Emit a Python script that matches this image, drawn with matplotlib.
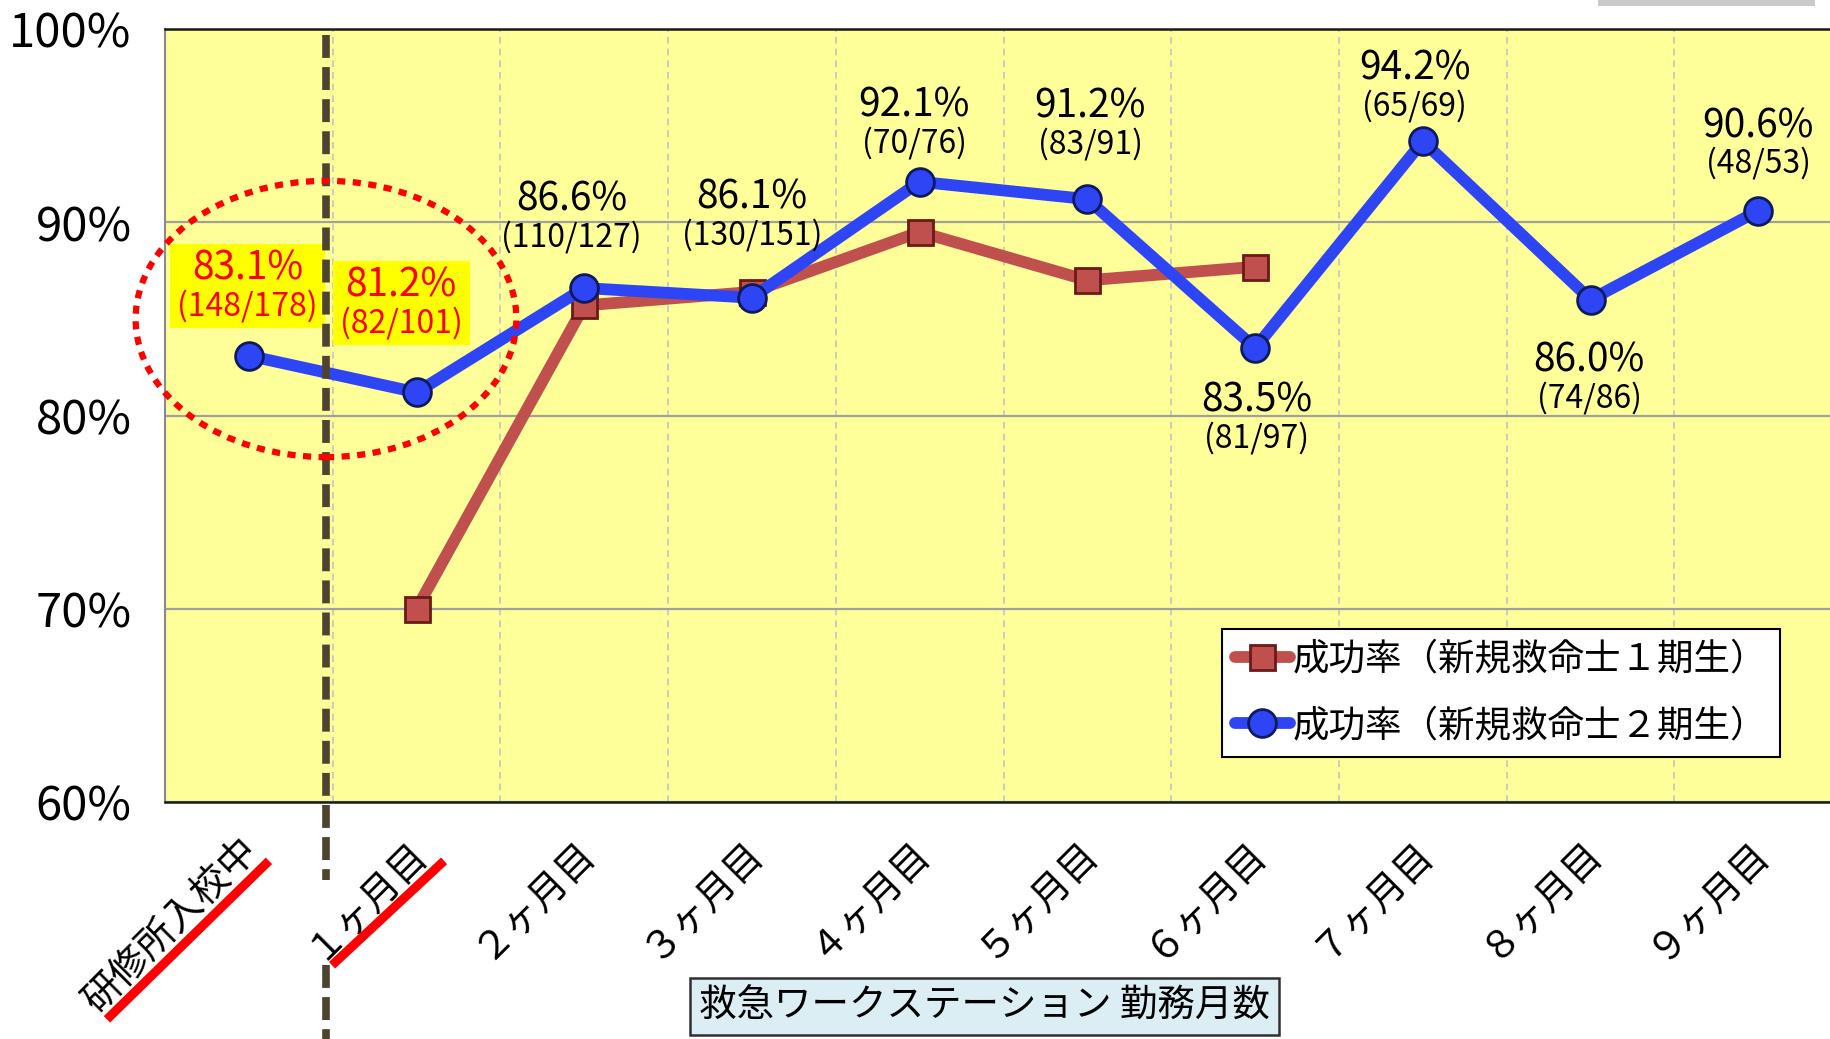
import matplotlib
matplotlib.use('Agg')
import matplotlib.pyplot as plt
from matplotlib.patches import Ellipse, Rectangle
from matplotlib.lines import Line2D
import matplotlib.transforms as mtransforms
import numpy as np

plt.rcParams['font.family'] = ['Noto Sans CJK JP', 'DejaVu Sans']

# ---------------- data ----------------
categories = ['研修所入校中', '１ヶ月目', '２ヶ月目', '３ヶ月目', '４ヶ月目',
              '５ヶ月目', '６ヶ月目', '７ヶ月目', '８ヶ月目', '９ヶ月目']
gen1_idx = [1, 2, 3, 4, 5, 6]
gen1_rate = [70.0, 85.7, 86.4, 89.5, 87.0, 87.7]
gen2_rate = [83.1, 81.2, 86.6, 86.1, 92.1, 91.2, 83.5, 94.2, 86.0, 90.6]
gen2_success = [148, 82, 110, 130, 70, 83, 81, 65, 74, 48]
gen2_total = [178, 101, 127, 151, 76, 91, 97, 69, 86, 53]
yticks = [60, 70, 80, 90, 100]
series_names = ['成功率（新規救命士１期生）', '成功率（新規救命士２期生）']
xlabel_text = '救急ワークステーション 勤務月数'

# label offsets (points) for the gen2 annotations
label_dx = [-1, -11, -9, 0, -4, 2, 1, -6, -1, 0]
label_dy = [63, 77, 64, 72, 55, 67, -38, 52, -44, 61]
highlight = [0, 1]

# ---------------- figure ----------------
fig = plt.figure(figsize=(18.31, 10.39), dpi=100)
ax = fig.add_axes([0.0901, 0.228, 0.916, 0.744])
ax.set_facecolor('#ffff99')
ax.set_xlim(-0.5, 9.5)
ax.set_ylim(60, 100)

ax.set_yticks(yticks)
ax.set_yticklabels([f'{v}%' for v in yticks], fontsize=34)
ax.tick_params(axis='y', length=0, pad=24)
ax.yaxis.grid(True, color='#a0a0a0', lw=1.6, zorder=0)

x = np.arange(len(categories))
ax.set_xticks(x)
ax.set_xticklabels(categories, fontsize=27.5, rotation=45, ha='right',
                   va='center', rotation_mode='anchor')
ax.tick_params(axis='x', length=0, pad=30.5)
shift = mtransforms.ScaledTranslation(3.5 / 100, 0, fig.dpi_scale_trans)
for lab in ax.get_xticklabels():
    lab.set_transform(lab.get_transform() + shift)
ax.set_xticks(np.arange(0.5, len(categories) - 1), minor=True)
ax.tick_params(axis='x', which='minor', length=0)
ax.xaxis.grid(True, which='minor', color='#c4c4c4', lw=1.2, ls=(0, (4, 3)))
ax.xaxis.grid(False, which='major')
ax.set_axisbelow(True)

for s in ['top', 'bottom']:
    ax.spines[s].set_color('#1a1a1a')
    ax.spines[s].set_linewidth(1.8)
ax.spines['left'].set_color('#8a8a8a')
ax.spines['left'].set_linewidth(1.5)
ax.spines['right'].set_visible(False)

l1, = ax.plot(gen1_idx, gen1_rate, color='#c0504d', lw=8.5, marker='s', ms=18,
              mfc='#c0504d', mec='#6b1a18', mew=2, zorder=3,
              solid_capstyle='round')
l2, = ax.plot(x, gen2_rate, color='#2d45f5', lw=8.5, marker='o', ms=20,
              mfc='#2d45f5', mec='#0d1a5c', mew=2, zorder=4,
              solid_capstyle='round')

# annotations
main_texts = {}
sub_texts = {}
for i, v in enumerate(gen2_rate):
    col = 'red' if i in highlight else 'black'
    t1 = ax.annotate(f'{v:.1f}%', xy=(i, v), xytext=(label_dx[i], label_dy[i]),
                     textcoords='offset points', ha='center', va='center',
                     fontsize=28, color=col, zorder=8)
    t2 = ax.annotate(f'({gen2_success[i]}/{gen2_total[i]})', xy=(i, v),
                     xytext=(label_dx[i], label_dy[i] - 27),
                     textcoords='offset points', ha='center', va='center',
                     fontsize=23, color=col, zorder=8)
    main_texts[i] = t1
    sub_texts[i] = t2

blend = mtransforms.blended_transform_factory(ax.transData, ax.transAxes)

# thick dashed separator (interrupted behind the "１ヶ月目" label)
sep = Line2D([0.46, 0.46, np.nan, 0.46, 0.46],
             [0.992, -0.101, np.nan, -0.211, -0.32], transform=blend,
             color='#4d4330', lw=5.5, dashes=(3.0, 1.2), clip_on=False, zorder=9)
ax.add_line(sep)

# dotted ellipse
ell = Ellipse((0.46, 85.0), 2.27, 14.3, fill=False, edgecolor='#ff0000',
              lw=4.5, ls=(0, (1.3, 1.2)), zorder=10, clip_on=False)
ax.add_patch(ell)

# red underline bars under first two tick labels
for (xs, ys) in [([-0.846, 0.120], [-0.281, -0.076]),
                 ([0.496, 1.164], [-0.211, -0.076])]:
    ax.add_line(Line2D(xs, ys, transform=blend, color='#ff0000', lw=6.5,
                       solid_capstyle='butt', clip_on=False, zorder=10))

# legend
leg = ax.legend([l1, l2], series_names, loc='lower left',
                bbox_to_anchor=(0.630, 0.058), fontsize=26.3, frameon=True,
                fancybox=False, framealpha=1, edgecolor='black',
                handlelength=1.5, handletextpad=0.08, borderpad=0.36,
                labelspacing=0.83, borderaxespad=0)
leg.get_frame().set_linewidth(1.5)
leg.set_zorder(11)

# x label box
fig.text(0.5376, 0.0313, xlabel_text, fontsize=27, ha='center', va='center',
         bbox=dict(facecolor='#daeef3', edgecolor='#303030', lw=1.8,
                   boxstyle='square,pad=0.25'))

# faint image fragment top right
fig.patches.append(Rectangle((0.873, 0.9945), 0.118, 0.0055, transform=fig.transFigure,
                             facecolor='#888888', edgecolor='none', alpha=0.45))

# yellow highlight boxes behind red labels
fig.canvas.draw()
r = fig.canvas.get_renderer()
inv = ax.transAxes.inverted()
for i in highlight:
    b1 = main_texts[i].get_window_extent(r)
    b2 = sub_texts[i].get_window_extent(r)
    bb = mtransforms.Bbox.union([b1, b2])
    x0, y0 = inv.transform((bb.x0 - 7, bb.y0 - 6))
    x1, y1 = inv.transform((bb.x1 + 7, bb.y1 + 4))
    ax.add_patch(Rectangle((x0, y0), x1 - x0, y1 - y0, transform=ax.transAxes,
                           facecolor='#ffff00', edgecolor='none', zorder=7))

fig.savefig('out.png', dpi=100)
